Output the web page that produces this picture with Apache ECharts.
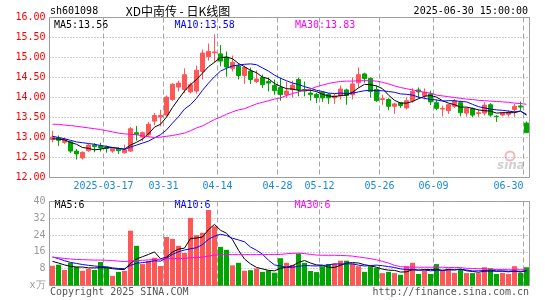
<!DOCTYPE html>
<html><head><meta charset="utf-8">
<script src="https://cdn.jsdelivr.net/npm/echarts@6/dist/echarts.min.js"></script>
<style>html,body{margin:0;padding:0;background:#fff}#c{width:545px;height:300px}</style>
</head><body><div id="c"></div>
<script>
const dates = ['2025-03-04','2025-03-05','2025-03-06','2025-03-07','2025-03-10','2025-03-11','2025-03-12','2025-03-13','2025-03-14','2025-03-17',
'2025-03-18','2025-03-19','2025-03-20','2025-03-21','2025-03-24','2025-03-25','2025-03-26','2025-03-27','2025-03-28','2025-03-31',
'2025-04-01','2025-04-02','2025-04-03','2025-04-07','2025-04-08','2025-04-09','2025-04-10','2025-04-11','2025-04-14','2025-04-15',
'2025-04-16','2025-04-17','2025-04-18','2025-04-21','2025-04-22','2025-04-23','2025-04-24','2025-04-25','2025-04-28','2025-04-29',
'2025-04-30','2025-05-06','2025-05-07','2025-05-08','2025-05-09','2025-05-12','2025-05-13','2025-05-14','2025-05-15','2025-05-16',
'2025-05-19','2025-05-20','2025-05-21','2025-05-22','2025-05-23','2025-05-26','2025-05-27','2025-05-28','2025-05-29','2025-05-30',
'2025-06-03','2025-06-04','2025-06-05','2025-06-06','2025-06-09','2025-06-10','2025-06-11','2025-06-12','2025-06-13','2025-06-16',
'2025-06-17','2025-06-18','2025-06-19','2025-06-20','2025-06-23','2025-06-24','2025-06-25','2025-06-26','2025-06-27','2025-06-30'];

const opens = [12.95,12.99,12.88,12.89,12.66,12.49,12.67,12.81,12.79,12.76,
12.66,12.72,12.62,12.66,13.12,13.01,13.07,13.41,13.51,13.56,
13.95,14.26,14.20,14.14,14.16,14.65,15.02,15.12,15.09,15.01,
14.73,14.79,14.55,14.66,14.40,14.50,14.40,14.30,14.25,14.07,
14.20,14.45,14.20,14.11,14.08,14.13,14.08,13.99,14.04,14.19,
14.07,14.37,14.59,14.48,14.20,13.95,13.95,13.78,13.87,13.74,
13.92,14.19,14.05,14.09,13.87,13.71,13.67,13.78,13.87,13.61,
13.72,13.60,13.61,13.82,13.53,13.56,13.58,13.70,13.79,13.36];
const closes = [13.01,12.93,12.95,12.66,12.59,12.63,12.81,12.77,12.74,12.73,
12.72,12.67,12.69,13.22,13.08,13.12,13.33,13.55,13.55,14.01,
14.33,14.36,14.57,14.32,14.68,15.11,15.15,15.14,14.91,14.76,
14.88,14.55,14.75,14.45,14.46,14.32,14.36,14.17,14.07,14.16,
14.31,14.20,14.16,14.07,14.00,13.99,13.99,14.04,14.21,14.05,
14.34,14.57,14.47,14.15,13.92,13.97,13.78,13.84,13.80,13.92,
14.15,14.14,14.13,13.89,13.73,13.73,13.82,13.91,13.62,13.73,
13.56,13.62,13.81,13.56,13.52,13.61,13.62,13.78,13.76,13.12];
const lows = [12.88,12.79,12.84,12.61,12.45,12.45,12.64,12.63,12.65,12.62,
12.62,12.59,12.60,12.64,12.92,12.91,13.03,13.31,13.28,13.53,
13.92,14.15,14.11,14.10,14.10,14.45,14.92,14.88,14.78,14.52,
14.65,14.45,14.34,14.34,14.36,14.24,14.15,14.07,13.92,13.99,
14.00,14.03,14.03,13.92,13.86,13.89,13.84,13.84,13.95,13.82,
13.95,14.25,14.37,14.00,13.89,13.82,13.68,13.59,13.74,13.70,
13.87,13.98,13.95,13.81,13.68,13.53,13.59,13.74,13.53,13.52,
13.51,13.51,13.55,13.52,13.39,13.53,13.52,13.52,13.68,13.11];
const highs = [13.17,13.05,13.00,12.91,12.71,12.65,12.85,12.86,12.87,12.80,
12.73,12.75,12.82,13.26,13.29,13.15,13.39,13.61,13.69,14.05,
14.36,14.42,14.73,14.37,14.80,15.20,15.35,15.58,15.31,15.15,
15.05,14.86,14.80,14.75,14.68,14.57,14.50,14.45,14.50,14.40,
14.42,14.50,14.40,14.20,14.12,14.15,14.11,14.10,14.30,14.22,
14.50,14.75,14.62,14.50,14.30,14.07,13.98,13.87,13.89,14.00,
14.23,14.25,14.23,14.17,13.94,13.80,13.84,13.96,13.92,13.75,
13.75,13.70,13.88,13.86,13.56,13.64,13.68,13.84,13.90,13.40];

const ma5 = [12.97,12.96,12.94,12.88,12.83,12.75,12.73,12.69,12.71,12.74,
12.75,12.73,12.71,12.81,12.88,12.96,13.09,13.26,13.33,13.51,
13.75,13.96,14.16,14.32,14.45,14.61,14.77,14.88,15.00,15.01,
14.97,14.85,14.77,14.68,14.62,14.51,14.47,14.35,14.28,14.22,
14.21,14.18,14.18,14.18,14.15,14.08,14.04,14.02,14.05,14.06,
14.13,14.24,14.33,14.32,14.29,14.22,14.06,13.93,13.86,13.86,
13.90,13.97,14.03,14.05,14.01,13.92,13.86,13.82,13.76,13.76,
13.73,13.69,13.67,13.66,13.61,13.62,13.62,13.62,13.66,13.56];
const ma10 = [13.03,13.00,12.97,12.93,12.89,12.87,12.85,12.83,12.80,12.78,
12.75,12.73,12.70,12.76,12.81,12.86,12.91,12.99,13.07,13.19,
13.36,13.52,13.71,13.82,13.98,14.18,14.36,14.52,14.66,14.73,
14.79,14.81,14.83,14.84,14.82,14.74,14.66,14.56,14.48,14.42,
14.36,14.33,14.27,14.23,14.18,14.15,14.11,14.10,14.11,14.10,
14.11,14.14,14.17,14.18,14.17,14.17,14.15,14.13,14.09,14.08,
14.06,14.01,13.98,13.95,13.94,13.91,13.92,13.92,13.90,13.89,
13.83,13.77,13.74,13.71,13.69,13.68,13.66,13.64,13.66,13.58];
const ma30 = [13.33,13.33,13.31,13.30,13.28,13.26,13.24,13.22,13.20,13.17,
13.14,13.11,13.09,13.08,13.07,13.04,13.02,13.00,13.01,13.03,
13.05,13.08,13.11,13.17,13.24,13.29,13.37,13.45,13.51,13.58,
13.64,13.69,13.72,13.78,13.84,13.88,13.92,13.96,13.99,14.05,
14.10,14.14,14.18,14.21,14.27,14.31,14.35,14.38,14.40,14.41,
14.41,14.42,14.42,14.42,14.41,14.38,14.34,14.29,14.25,14.22,
14.19,14.16,14.13,14.11,14.06,14.04,14.02,14.00,13.98,13.96,
13.95,13.93,13.92,13.91,13.90,13.89,13.88,13.86,13.85,13.83];

const volumes = [9.4,9.9,7.4,10.8,8.9,7.0,7.9,7.4,11.2,8.9,
4.6,6.5,7.0,26.1,18.9,10.2,11.7,13.2,9.3,23.1,
22.2,18.9,15.5,32.2,24.0,25.1,36.0,28.2,18.4,17.0,
9.6,10.8,7.0,7.3,8.1,6.5,7.2,6.1,13.0,10.8,
9.8,15.2,10.8,6.9,6.4,9.2,10.2,10.4,11.8,11.8,
10.4,9.2,6.5,9.2,8.4,5.9,6.5,5.9,5.1,9.2,
10.8,5.5,7.2,5.5,10.2,7.0,8.1,6.0,7.8,5.9,
5.9,5.9,8.7,8.2,5.5,6.0,5.5,9.2,6.0,8.7];
const volMa5 = [11.5,10.7,9.8,9.1,8.8,8.8,8.4,8.4,8.5,8.5,
8.0,7.7,7.6,10.6,12.6,13.7,14.8,16.0,12.7,13.5,
15.9,17.3,17.8,22.4,22.6,23.1,26.6,29.1,26.3,24.9,
21.8,16.8,12.6,10.3,8.6,7.9,7.2,7.0,8.2,8.7,
9.4,11.0,11.9,10.7,9.8,9.7,8.7,8.6,9.6,10.7,
10.9,10.7,9.9,9.4,8.7,7.8,7.3,7.2,6.4,6.5,
7.5,7.3,7.6,7.6,7.8,7.1,7.6,7.4,7.8,7.0,
6.7,6.3,6.8,6.9,6.8,6.9,6.8,6.9,6.4,7.1];
const volMa10 = [13.6,12.8,11.8,11.0,10.5,10.0,9.6,9.3,9.0,8.9,
8.4,8.1,8.0,9.6,10.6,10.9,11.3,11.8,11.6,13.1,
14.8,16.1,16.9,17.5,18.0,19.5,22.0,23.5,24.4,23.8,
22.5,21.7,20.8,18.3,16.8,14.9,12.0,9.8,9.3,8.6,
8.7,9.1,9.5,9.4,9.3,9.5,9.8,10.3,10.2,10.3,
10.3,9.7,9.3,9.5,9.7,9.4,9.0,8.6,7.9,7.6,
7.7,7.3,7.4,7.0,7.2,7.3,7.5,7.5,7.7,7.4,
6.9,7.0,7.1,7.4,6.9,6.8,6.5,6.9,6.7,7.0];
const volMa30 = [13.4,13.2,12.9,12.6,12.4,12.3,12.2,12.1,12.1,12.0,
11.9,11.6,11.4,11.7,11.9,12.0,12.2,12.4,12.5,12.7,
12.8,12.9,12.9,13.2,13.3,13.5,14.0,14.4,14.6,14.7,
14.7,14.7,14.7,14.7,14.7,14.7,14.8,14.8,14.8,15.1,
15.3,15.4,15.2,14.8,14.5,14.4,14.4,14.4,14.3,14.2,
14.0,13.6,13.2,12.8,12.2,11.5,10.7,9.6,9.0,8.7,
8.7,8.7,8.7,8.7,8.7,8.7,8.6,8.6,8.5,8.2,
8.1,8.0,8.0,7.7,7.6,7.6,7.5,7.5,7.5,7.5];

const xLabelDates = ['2025-03-17','2025-03-31','2025-04-14','2025-04-28','2025-05-12','2025-05-26','2025-06-09','2025-06-30'];
const priceAxis = {min: 12, max: 16, step: 0.5};
const volAxis = {min: 0, max: 40, step: 8, unit: 'x万'};
const volMaLabels = ['MA5:6', 'MA10:6', 'MA30:6'];
const stockCode = 'sh601098';
const chartTitle = 'XD中南传 - 日K线图';
const stamp = '2025-06-30 15:00:00';

const MONO = '"DejaVu Sans Mono", monospace';
const UP = '#ff5656', DOWN = '#00a600';
const GRID_C = '#a4a4a4';

const kData = dates.map((d, i) => [opens[i], closes[i], lows[i], highs[i]]);
const volData = volumes.map((v, i) => ({value: v, itemStyle: {color: closes[i] >= opens[i] ? UP : DOWN}}));
const last = dates.length - 1;

const isLabelDate = (idx, val) => xLabelDates.indexOf(val) >= 0;
const xLabelColor = '#1a8ad8';

const chart = echarts.init(document.getElementById('c'), null, {renderer: 'canvas'});
const lineS = (name, data, color, xi) => ({
  type: 'line', name, data, xAxisIndex: xi, yAxisIndex: xi, showSymbol: false, symbol: 'none',
  silent: true, lineStyle: {color, width: 1}, z: 5
});
const vSplit = {show: true, interval: isLabelDate, lineStyle: {color: GRID_C, width: 1, type: [5, 3]}};

chart.setOption({
  animation: false,
  grid: [
    {left: 49.5, width: 480, top: 17.5, height: 160, show: true, borderColor: '#999', borderWidth: 1, backgroundColor: 'transparent'},
    {left: 49.5, width: 480, top: 201.5, height: 84, show: true, borderColor: '#999', borderWidth: 1, backgroundColor: 'transparent'}
  ],
  xAxis: [
    {type: 'category', gridIndex: 0, data: dates, boundaryGap: true,
      axisLine: {show: false}, axisTick: {show: false},
      axisLabel: {interval: isLabelDate, margin: 4, fontFamily: MONO, fontSize: 10, color: xLabelColor,
        formatter: (val) => {
          const t = val === xLabelDates[0] ? val : val.slice(5);
          return val === xLabelDates[xLabelDates.length - 1] ? '{r|' + t + '}' : '{c|' + t + '}';
        },
        rich: {
          c: {padding: [0, 6, 0, 0], fontFamily: MONO, fontSize: 10, color: xLabelColor},
          r: {padding: [0, 36, 0, 0], fontFamily: MONO, fontSize: 10, color: xLabelColor}
        }},
      splitLine: vSplit},
    {type: 'category', gridIndex: 1, data: dates, boundaryGap: true,
      axisLine: {show: false}, axisTick: {show: false}, axisLabel: {show: false},
      splitLine: vSplit}
  ],
  yAxis: [
    {type: 'value', gridIndex: 0, min: priceAxis.min, max: priceAxis.max, interval: priceAxis.step,
      axisLine: {show: false}, axisTick: {show: false},
      axisLabel: {margin: 4, fontFamily: MONO, fontSize: 10, color: '#ff0000', formatter: (v) => v.toFixed(2)},
      splitLine: {show: true, lineStyle: {color: GRID_C, width: 1, type: [1, 2]}}},
    {type: 'value', gridIndex: 1, min: volAxis.min, max: volAxis.max, interval: volAxis.step,
      axisLine: {show: false}, axisTick: {show: false},
      axisLabel: {margin: 4, fontFamily: MONO, fontSize: 10, color: '#999',
        formatter: (v) => v === 0 ? volAxis.unit : String(v)},
      splitLine: {show: true, lineStyle: {color: GRID_C, width: 1, type: [1, 2]}}}
  ],
  series: [
    {type: 'candlestick', xAxisIndex: 0, yAxisIndex: 0, data: kData, barWidth: 5, silent: true,
      itemStyle: {color: UP, color0: DOWN, borderColor: UP, borderColor0: DOWN, borderWidth: 1}, z: 3},
    lineS('MA5', ma5, '#000000', 0),
    lineS('MA10', ma10, '#0000ff', 0),
    lineS('MA30', ma30, '#ff00ff', 0),
    {type: 'bar', xAxisIndex: 1, yAxisIndex: 1, data: volData, barWidth: 5, silent: true, z: 3},
    lineS('VMA5', volMa5, '#000000', 1),
    lineS('VMA10', volMa10, '#0000ff', 1),
    lineS('VMA30', volMa30, '#ff00ff', 1)
  ],
  graphic: [
    {type: 'text', x: 50, y: 11.5, style: {text: stockCode, font: '10px ' + MONO, fill: '#000', align: 'left', verticalAlign: 'middle'}},
    {type: 'text', x: 178, y: 11.5, style: {text: chartTitle, font: '12px "Noto Sans CJK SC"', fill: '#000', align: 'center', verticalAlign: 'middle'}},
    {type: 'text', x: 528, y: 11.5, style: {text: stamp, font: '10px ' + MONO, fill: '#000', align: 'right', verticalAlign: 'middle'}},
    {type: 'text', x: 54, y: 25, style: {text: 'MA5:' + ma5[last].toFixed(2), font: '10px ' + MONO, fill: '#000', align: 'left', verticalAlign: 'middle'}},
    {type: 'text', x: 174.5, y: 25, style: {text: 'MA10:' + ma10[last].toFixed(2), font: '10px ' + MONO, fill: '#0000ff', align: 'left', verticalAlign: 'middle'}},
    {type: 'text', x: 295, y: 25, style: {text: 'MA30:' + ma30[last].toFixed(2), font: '10px ' + MONO, fill: '#ff00ff', align: 'left', verticalAlign: 'middle'}},
    {type: 'text', x: 54.5, y: 205.5, style: {text: volMaLabels[0], font: '10px ' + MONO, fill: '#000', align: 'left', verticalAlign: 'middle'}},
    {type: 'text', x: 174.5, y: 205.5, style: {text: volMaLabels[1], font: '10px ' + MONO, fill: '#0000ff', align: 'left', verticalAlign: 'middle'}},
    {type: 'text', x: 294.5, y: 205.5, style: {text: volMaLabels[2], font: '10px ' + MONO, fill: '#ff00ff', align: 'left', verticalAlign: 'middle'}},
    {type: 'text', x: 50, y: 292.5, style: {text: 'Copyright 2025 SINA.COM', font: '10px ' + MONO, fill: '#555', align: 'left', verticalAlign: 'middle'}},
    {type: 'text', x: 529, y: 292.5, style: {text: 'http://finance.sina.com.cn', font: '10px ' + MONO, fill: '#555', align: 'right', verticalAlign: 'middle'}},
    {type: 'circle', shape: {cx: 510, cy: 156, r: 4.5}, style: {fill: 'none', stroke: '#f5b8b8', lineWidth: 2}, silent: true},
    {type: 'text', x: 497, y: 166, style: {text: 'sina', font: 'italic bold 12px "DejaVu Sans"', fill: '#d0d0d0', align: 'left', verticalAlign: 'middle'}, silent: true}
  ]
});
</script>
</body></html>
